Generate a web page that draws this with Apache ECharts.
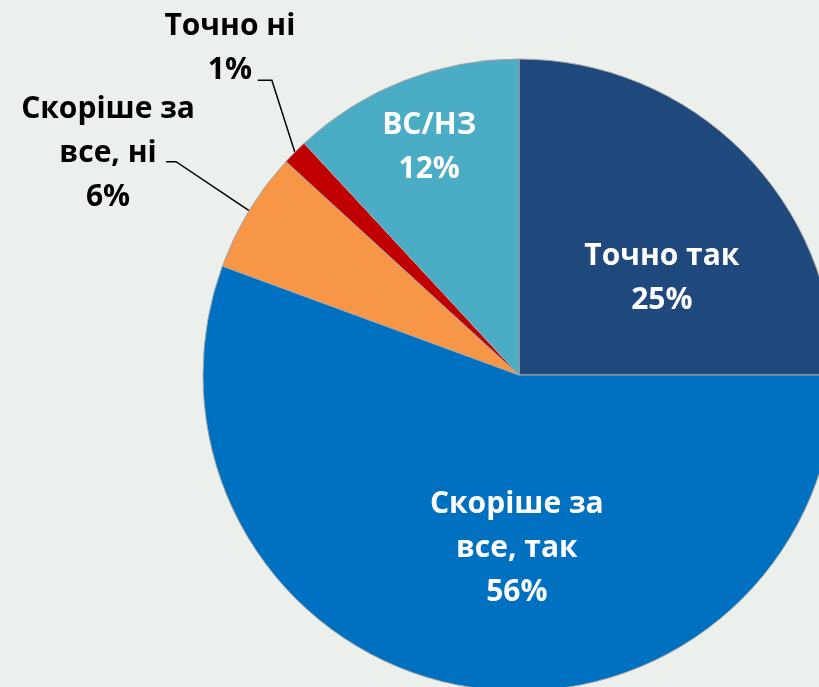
<!DOCTYPE html>
<html><head><meta charset="utf-8">
<style>html,body{margin:0;padding:0;background:#EBF0ED;}#c{width:819px;height:687px;}</style>
<script src="https://cdn.jsdelivr.net/npm/echarts@6/dist/echarts.min.js"></script>
</head><body><div id="c"></div>
<script>
const categories = ['Точно так', 'Скоріше за\nвсе, так', 'Скоріше за\nвсе, ні', 'Точно ні', 'ВС/НЗ'];
const values = [25.0, 55.6, 6.2, 1.3, 11.9];
const colors = ['#1F497D', '#0070C0', '#F79646', '#C00000', '#4BACC6'];

const CX = 519, CY = 375, R = 316;
const total = values.reduce((a, b) => a + b, 0);
function anchor(i) {
  let before = 0;
  for (let k = 0; k < i; k++) before += values[k];
  const mid = (before + values[i] / 2) / total * Math.PI * 2;
  return [CX + R * Math.sin(mid), CY - R * Math.cos(mid)];
}
// label offsets (inside: dx,dy from default; outside: leader geometry)
const insideShift = {0: [29, 17], 1: [26, 15], 4: [-31, -78]};
const outsideGeom = {
  2: {elbow: [-73, -49], end: [-10, 0], text: [-58, -8]},
  3: {elbow: [-23, -72], end: [-14, 0], text: [-28, -32]}
};

const data = categories.map((name, i) => {
  const outside = outsideGeom[i] != null;
  return {
    name, value: values[i],
    itemStyle: {color: colors[i]},
    label: {position: outside ? 'outside' : 'inside', color: outside ? '#000' : '#fff'},
    labelLine: {show: outside}
  };
});

const chart = echarts.init(document.getElementById('c'));
chart.setOption({
  backgroundColor: '#EBF0ED',
  animation: false,
  series: [{
    type: 'pie',
    center: [CX, CY],
    radius: R,
    startAngle: 90,
    clockwise: true,
    data,
    itemStyle: {borderColor: '#A6A6A6', borderWidth: 1},
    label: {
      formatter: p => p.name + '\n' + Math.round(p.value) + '%',
      fontFamily: 'Open Sans',
      fontWeight: 'bold',
      fontSize: 30,
      lineHeight: 44,
      align: 'center',
      overflow: 'none',
      edgeDistance: 0
    },
    labelLine: {lineStyle: {color: '#000', width: 1.5}},
    labelLayout: function (p) {
      const i = p.dataIndex;
      if (outsideGeom[i]) {
        const g = outsideGeom[i];
        const a = anchor(i);
        const e = [a[0] + g.elbow[0], a[1] + g.elbow[1]];
        const t = [e[0] + g.end[0], e[1] + g.end[1]];
        return {
          x: t[0] + g.text[0], y: t[1] + g.text[1],
          align: 'center', verticalAlign: 'middle',
          labelLinePoints: [a, e, t]
        };
      }
      const s = insideShift[i] || [0, 0];
      return {dx: s[0], dy: s[1]};
    }
  }]
});
</script></body></html>
